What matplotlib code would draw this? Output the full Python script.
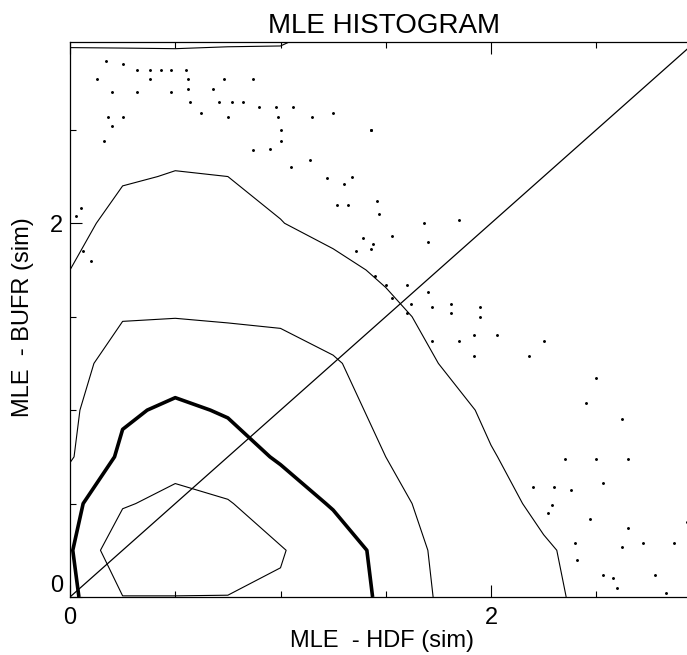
import numpy as np
import matplotlib
matplotlib.use('Agg')
import matplotlib.pyplot as plt
from matplotlib.ticker import MultipleLocator, FixedLocator

plt.rcParams['font.family'] = ['Liberation Sans', 'DejaVu Sans']

# histogram grid (bin nodes every 0.25, counts)
x_nodes = [0.0, 0.25, 0.5, 0.75, 1.0, 1.25, 1.5, 1.75, 2.0, 2.25, 2.5, 2.75, 3.0]
y_nodes = [0.0, 0.25, 0.5, 0.75, 1.0, 1.25, 1.5, 1.75, 2.0, 2.25, 2.5, 2.75, 3.0]
counts = [
    [9.0, 14.9, 14.9, 14.9, 14.5, 11.5, 9.5, 4.5, 2.8, 2.3, 1.6, 0.5, 0.1],
    [9.5, 19.0, 19.0, 17.5, 15.3, 12.5, 8.6, 4.1, 3.0, 2.2, 1.4, 0.6, 0.1],
    [8.5, 14.5, 16.5, 15.3, 12.5, 9.6, 6.2, 3.8, 2.6, 1.6, 1.0, 0.4, 0.0],
    [4.5, 11.0, 13.0, 12.0, 9.5, 7.0, 5.0, 3.2, 2.1, 1.3, 0.7, 0.3, 0.0],
    [4.0, 9.3, 10.8, 9.6, 7.8, 6.0, 4.3, 2.7, 1.7, 1.0, 0.5, 0.2, 0.0],
    [3.5, 6.8, 7.8, 7.6, 6.5, 5.3, 3.6, 2.0, 1.3, 0.8, 0.4, 0.1, 0.0],
    [2.8, 4.8, 4.9, 4.6, 4.5, 3.6, 2.5, 1.5, 0.9, 0.5, 0.2, 0.05, 0.0],
    [2.0, 3.6, 3.8, 3.6, 3.1, 2.5, 1.7, 1.0, 0.6, 0.3, 0.1, 0.0, 0.0],
    [1.2, 2.8, 3.0, 2.7, 2.05, 1.4, 0.9, 0.5, 0.3, 0.1, 0.0, 0.0, 0.0],
    [0.6, 1.8, 2.1, 2.0, 1.5, 1.0, 0.6, 0.3, 0.15, 0.05, 0.0, 0.0, 0.0],
    [0.3, 1.0, 1.3, 1.2, 0.9, 0.6, 0.3, 0.15, 0.05, 0.0, 0.0, 0.0, 0.0],
    [0.1, 0.5, 0.6, 0.6, 0.45, 0.3, 0.15, 0.05, 0.0, 0.0, 0.0, 0.0, 0.0],
    [2.6, 2.5, 2.5, 2.4, 2.4, 1.4, 0.4, 0.1, 0.0, 0.0, 0.0, 0.0, 0.0],
]
levels = [2, 5, 10, 15]
level_widths = [0.8, 0.8, 2.6, 0.8]

# isolated single-count bins (the specks outside the main contours)
speck_x = [1.43, 1.46, 1.47, 1.68, 1.85, 1.53, 1.70, 1.43, 1.45, 1.50, 1.60, 1.70,
           1.53, 1.62, 1.81, 1.72, 1.60, 1.81, 1.95, 1.95, 1.92, 2.03, 2.25, 1.72,
           1.85, 2.18, 1.92, 2.50, 2.45, 2.62, 2.50, 2.65, 2.35, 2.53, 2.30, 2.38,
           2.47, 2.65, 2.72, 2.87, 2.62, 2.93, 2.78, 2.83, 2.58, 2.60, 2.53, 2.41,
           2.40, 2.29, 2.27, 2.20,
           0.17, 0.25, 0.32, 0.38, 0.43, 0.48, 0.55, 0.13, 0.38, 0.56, 0.73, 0.87,
           0.20, 0.32, 0.48, 0.68, 0.56, 0.57, 0.71, 0.77, 0.82, 0.90, 0.98, 1.06,
           1.25, 1.15, 0.99, 0.75, 0.62, 0.18, 0.25, 0.20, 1.43, 1.00, 0.87, 0.95,
           1.00, 0.16, 1.14, 1.05, 1.34, 1.22, 1.30, 1.27, 1.32, 1.39, 1.44, 1.36,
           0.03, 0.06, 0.10, 0.05]
speck_y = [2.50, 2.12, 2.05, 2.00, 2.02, 1.93, 1.90, 1.86, 1.72, 1.67, 1.67, 1.63,
           1.60, 1.57, 1.57, 1.55, 1.52, 1.52, 1.55, 1.50, 1.40, 1.40, 1.37, 1.37,
           1.37, 1.29, 1.29, 1.17, 1.04, 0.95, 0.74, 0.74, 0.74, 0.61, 0.59, 0.57,
           0.42, 0.37, 0.29, 0.29, 0.27, 0.40, 0.12, 0.02, 0.10, 0.05, 0.12, 0.20,
           0.29, 0.49, 0.45, 0.59,
           2.87, 2.85, 2.82, 2.82, 2.82, 2.82, 2.82, 2.77, 2.77, 2.77, 2.77, 2.77,
           2.70, 2.70, 2.70, 2.72, 2.72, 2.65, 2.65, 2.65, 2.65, 2.62, 2.62, 2.62,
           2.59, 2.57, 2.57, 2.57, 2.59, 2.57, 2.57, 2.52, 2.50, 2.50, 2.39, 2.40,
           2.44, 2.44, 2.34, 2.30, 2.25, 2.24, 2.21, 2.10, 2.10, 1.92, 1.89, 1.85,
           2.04, 1.85, 1.80, 2.08]

fig = plt.figure(figsize=(6.87, 6.55), dpi=100)
ax = fig.add_axes([70/687, 58/655, 631.5/687, 555/655])

X, Y = np.meshgrid(x_nodes, y_nodes)
ax.contour(X, Y, np.array(counts), levels=levels, colors='k',
           linewidths=level_widths, linestyles='solid')
ax.plot(speck_x, speck_y, 'k.', markersize=2.2, linestyle='none')
ax.axline((0, 0), slope=1, color='k', linewidth=0.9)

ax.set_xlim(0, 3)
ax.set_ylim(0, 2.97)
ax.xaxis.set_major_locator(FixedLocator([0, 2]))
ax.yaxis.set_major_locator(FixedLocator([0, 2]))
ax.xaxis.set_minor_locator(MultipleLocator(0.5))
ax.yaxis.set_minor_locator(MultipleLocator(0.5))
ax.tick_params(which='both', direction='in', top=True, right=True,
               labelsize=17, width=0.8)
ax.tick_params(which='major', length=8.5)
ax.tick_params(which='minor', length=4)
ax.tick_params(axis='x', pad=7.5)
ax.tick_params(axis='y', pad=5)
for s in ax.spines.values():
    s.set_linewidth(0.9)
# the y "0" sits just above the axis line
ax.get_yticklabels()[0].set_verticalalignment('bottom')

fig.text(384/687, 1 - 33/655, 'MLE HISTOGRAM', ha='center', va='baseline', fontsize=20)
fig.text(382/687, 1 - 641/655, 'MLE  - HDF (sim)', ha='center', va='center', fontsize=17)
fig.text(23/687, 1 - 317/655, 'MLE  - BUFR (sim)', ha='center', va='center',
         rotation=90, fontsize=17)

fig.savefig('out.png', dpi=100)
